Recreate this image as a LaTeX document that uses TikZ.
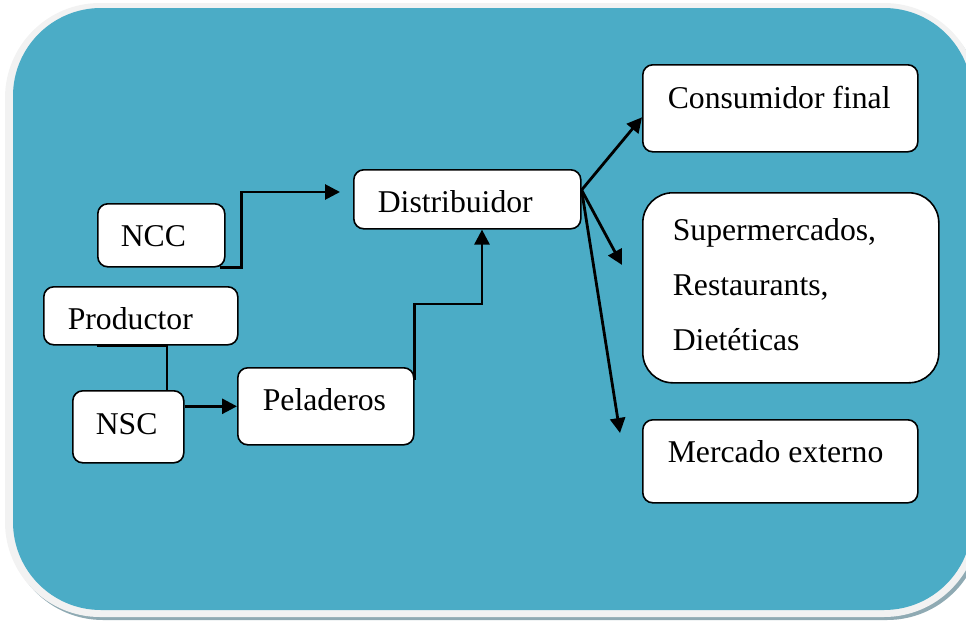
\documentclass[tikz,border=0pt]{standalone}
\usepackage{fontspec}
\setmainfont{Liberation Serif}
\usetikzlibrary{arrows.meta}
\definecolor{tealbg}{HTML}{4BACC6}
\definecolor{rimcol}{HTML}{F2F2F2}
\definecolor{shadecol}{HTML}{8FAAB3}
\newcommand\fsz{\fontsize{31.7pt}{55pt}\selectfont}
\newcommand\bxt[3]{\makebox[#1][l]{\hspace*{#2}#3}}
\begin{document}
\begin{tikzpicture}[x=1pt,y=-1pt,
  box/.style={draw=black, line width=1.6pt, fill=white, rounded corners=10pt,
    inner sep=0pt, anchor=north west, font=\fsz},
  conn/.style={line width=2.8pt, draw=black},
  arr/.style={conn, -{Triangle[length=15pt,width=15pt]}}]
\useasboundingbox (0,0) rectangle (966,621);
% background
\fill[shadecol] (8,8) [rounded corners=95pt] rectangle (982,620);
\fill[rimcol] (5,3) [rounded corners=95pt] rectangle (979,617);
\fill[tealbg] (13,8) [rounded corners=88pt] rectangle (972,610);
% boxes
\node[box, text height=43pt, text depth=20pt] (ncc) at (97,203) {\bxt{127pt}{23pt}{NCC}};
\node[box, text height=43pt, text depth=15pt] (prod) at (43,286) {\bxt{194pt}{24pt}{Productor}};
\node[box, text height=44pt, text depth=28pt] (nsc) at (72,390) {\bxt{111pt}{23pt}{NSC}};
\node[box, text height=43pt, text depth=34pt] (pel) at (237,367) {\bxt{176pt}{25pt}{Peladeros}};
\node[box, text height=43pt, text depth=16pt] (dist) at (353,169) {\bxt{227pt}{24pt}{Distribuidor}};
\node[box, text height=44pt, text depth=43pt] (cons) at (642,64) {\bxt{275pt}{25pt}{Consumidor final}};
\node[box, rounded corners=30pt, text height=48pt, text depth=142pt] (sup) at (642,192)
  {\bxt{296pt}{30pt}{\parbox[t]{260pt}{Supermercados,\\Restaurants,\\Dietéticas}}};
\node[box, text height=43pt, text depth=40pt] (merc) at (642,419) {\bxt{275pt}{25pt}{Mercado externo}};
% free ends
\coordinate (nccend) at (340,192);
\coordinate (supend) at (622,265);
\coordinate (mercend) at (620,433);
% connectors
\draw[arr] ([xshift=-6pt]ncc.south east) -- ++(22,0) |- (nccend);
\draw[conn] ([xshift=54pt]prod.south west) -| ([xshift=95pt]nsc.north west);
\draw[arr] (nsc.east |- pel.west) -- (pel.west);
\draw[arr] ([yshift=-13pt]pel.north east) -- ++(0,-76) -| ([xshift=129pt]dist.south west);
\draw[arr] ([yshift=-21pt]dist.north east) -- ([yshift=-9pt]cons.west);
\draw[arr] ([yshift=-21pt]dist.north east) -- (supend);
\draw[arr] ([yshift=-21pt]dist.north east) -- (mercend);
\end{tikzpicture}
\end{document}
